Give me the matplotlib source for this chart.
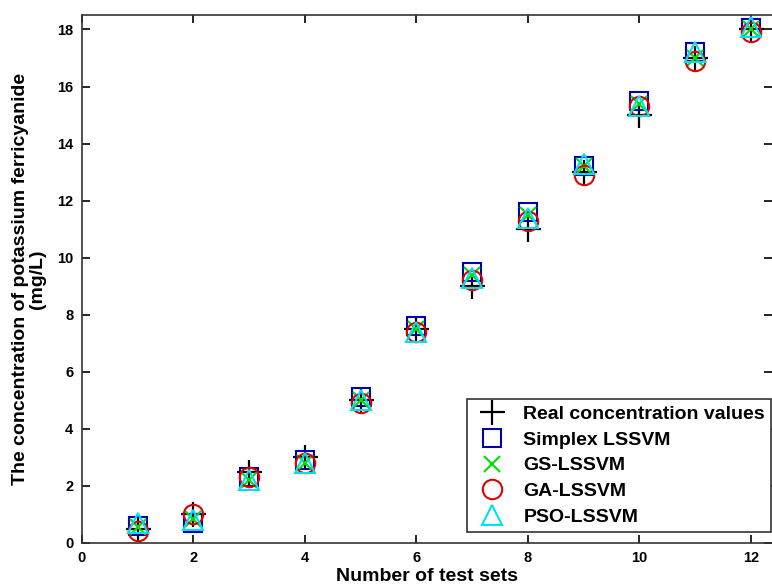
import matplotlib
matplotlib.use("Agg")
import matplotlib.pyplot as plt

x = [1, 2, 3, 4, 5, 6, 7, 8, 9, 10, 11, 12]
real = [0.5, 1.0, 2.5, 3.0, 5.0, 7.5, 9.0, 11.0, 13.0, 15.0, 17.0, 18.0]
simplex = [0.6, 0.7, 2.3, 2.9, 5.1, 7.6, 9.5, 11.6, 13.2, 15.5, 17.2, 18.05]
gs = [0.55, 0.85, 2.2, 2.8, 5.0, 7.5, 9.4, 11.5, 13.2, 15.4, 17.0, 18.0]
ga = [0.4, 1.0, 2.3, 2.8, 4.9, 7.4, 9.2, 11.3, 12.9, 15.3, 16.9, 17.9]
pso = [0.7, 0.8, 2.2, 2.8, 5.0, 7.4, 9.3, 11.4, 13.3, 15.3, 17.2, 18.1]
labels = ["Real concentration values", "Simplex LSSVM", "GS-LSSVM", "GA-LSSVM", "PSO-LSSVM"]
xticks = [0, 2, 4, 6, 8, 10, 12]
yticks = [0, 2, 4, 6, 8, 10, 12, 14, 16, 18]

plt.rcParams['font.family'] = ['Liberation Sans', 'DejaVu Sans']
plt.rcParams['font.weight'] = 'bold'

fig = plt.figure(figsize=(7.72, 5.85), dpi=100)
ax = fig.add_axes([0.106, 0.072, 0.894, 0.902])

ax.plot(x, real, ls='none', marker='+', ms=18, mew=1.6, color='black', label=labels[0])
ax.plot(x, simplex, ls='none', marker='s', ms=13, mew=1.5, mfc='none', mec='#0000b0', label=labels[1])
ax.plot(x, gs, ls='none', marker='x', ms=12, mew=1.5, color='#00e000', label=labels[2])
ax.plot(x, ga, ls='none', marker='o', ms=14, mew=1.5, mfc='none', mec='#e00000', label=labels[3])
ax.plot(x, pso, ls='none', marker='^', ms=15, mew=1.5, mfc='none', mec='#00e0f0', label=labels[4])

ax.set_xlim(0, 12.38)
ax.set_ylim(0, 18.5)
ax.set_xticks(xticks)
ax.set_yticks(yticks)
ax.tick_params(direction='in', top=True, right=True, length=6, width=1.2, labelsize=10.5, pad=6)
for lab in ax.get_xticklabels() + ax.get_yticklabels():
    lab.set_fontweight('bold')
for s in ['left', 'bottom', 'top']:
    ax.spines[s].set_linewidth(1.2)
    ax.spines[s].set_color('#333333')
ax.spines['right'].set_visible(False)

ax.set_xlabel("Number of test sets", fontsize=14, fontweight='bold', labelpad=2)
ax.set_ylabel("The concentration of potassium ferricyanide\n(mg/L)", fontsize=14,
              fontweight='bold', labelpad=8, linespacing=1.0)

leg = ax.legend(loc='lower left', bbox_to_anchor=(0.558, 0.021), fancybox=False,
                framealpha=1, edgecolor='#333333', borderpad=0.3,
                labelspacing=0.42, handletextpad=0.6, handlelength=2.0, borderaxespad=0,
                prop={'weight': 'bold', 'size': 14})
leg.get_frame().set_linewidth(1.2)

fig.savefig("out.png", dpi=100)
